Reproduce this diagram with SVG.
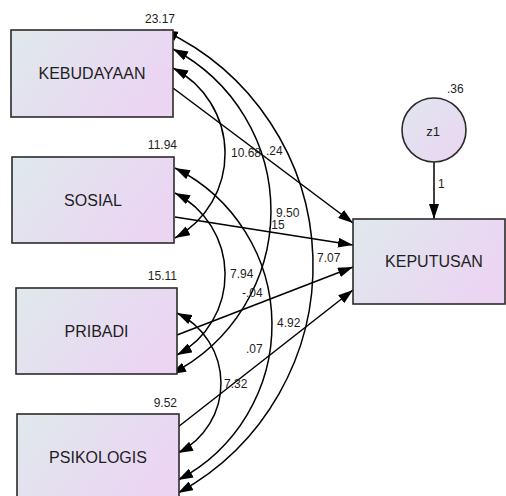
<svg xmlns="http://www.w3.org/2000/svg" width="506" height="496" viewBox="0 0 506 496">
<style>
.box{stroke:#2b2b2b;stroke-width:1.6;fill:url(#g)}
.lbl{font-family:"Liberation Sans",Arial,sans-serif;font-size:16px;fill:#1e1e1e;text-anchor:middle}
.num{font-family:"Liberation Sans",Arial,sans-serif;font-size:12px;fill:#1e1e1e}
.end{text-anchor:end}
.ln{fill:none;stroke:#000;stroke-width:1.5}
.one{marker-end:url(#ah)}
.two{marker-start:url(#ah);marker-end:url(#ah)}
</style>
<defs>
<linearGradient id="g" x1="0" y1="0" x2="1" y2="0.4">
<stop offset="0" stop-color="#dfe9ec"/>
<stop offset="1" stop-color="#ebd5f3"/>
</linearGradient>
<linearGradient id="gc" x1="0" y1="0" x2="1" y2="1">
<stop offset="0" stop-color="#e0e6ee"/>
<stop offset="1" stop-color="#ebd5f3"/>
</linearGradient>
<marker id="ah" viewBox="0 0 15 10" refX="15" refY="5" markerWidth="15" markerHeight="10" markerUnits="userSpaceOnUse" orient="auto-start-reverse">
<path d="M0,0 L15,5 L0,10 z" fill="#000"/>
</marker>
</defs>
<g id="connectors">
<path class="ln one" d="M173,88 L353,223"/>
<path class="ln one" d="M175,217 L353,245"/>
<path class="ln one" d="M177,335 L353,267"/>
<path class="ln one" d="M178,427 L353,290"/>
<path class="ln one" d="M434,162 L434,219"/>
<path class="ln two" d="M173,68 A96.3,96.3 0 0 1 175,238"/>
<path class="ln two" d="M173,49 A182.9,182.9 0 0 1 171,374"/>
<path class="ln two" d="M163,30 A259.5,259.5 0 0 1 178,493"/>
<path class="ln two" d="M175,193 A91.4,91.4 0 0 1 177,355"/>
<path class="ln two" d="M175,168 A175.2,175.2 0 0 1 178,480"/>
<path class="ln two" d="M177,313 A78.1,78.1 0 0 1 178,453"/>
<text class="num" x="231" y="157">10.68</text>
<text class="num" x="266" y="155">.24</text>
<text class="num" x="276" y="217">9.50</text>
<text class="num" x="268" y="229">.15</text>
<text class="num" x="317" y="262">7.07</text>
<text class="num" x="230" y="278">7.94</text>
<text class="num" x="242" y="297">-.04</text>
<text class="num" x="277" y="327">4.92</text>
<text class="num" x="246" y="353">.07</text>
<text class="num" x="224" y="388">7.32</text>
<text class="num" x="438" y="188">1</text>
</g>
<g id="kebudayaan">
<rect class="box" x="11" y="30" width="162" height="87"/>
<text class="lbl" x="92" y="79">KEBUDAYAAN</text>
<text class="num end" x="175" y="23">23.17</text>
</g>
<g id="sosial">
<rect class="box" x="12" y="157" width="162" height="86"/>
<text class="lbl" x="93" y="206">SOSIAL</text>
<text class="num end" x="177" y="149">11.94</text>
</g>
<g id="pribadi">
<rect class="box" x="16" y="288" width="161" height="86"/>
<text class="lbl" x="96.5" y="337">PRIBADI</text>
<text class="num end" x="177" y="280">15.11</text>
</g>
<g id="psikologis">
<rect class="box" x="17" y="414" width="162" height="86"/>
<text class="lbl" x="98" y="463">PSIKOLOGIS</text>
<text class="num end" x="177" y="407">9.52</text>
</g>
<g id="keputusan">
<rect class="box" x="353" y="219" width="152" height="85"/>
<text class="lbl" x="434" y="267">KEPUTUSAN</text>
</g>
<g id="z1">
<circle cx="434" cy="130" r="32" fill="url(#gc)" stroke="#2b2b2b" stroke-width="1.6"/>
<text class="lbl" x="433" y="136" style="font-size:13px">z1</text>
<text class="num" x="447" y="93">.36</text>
</g>
</svg>
